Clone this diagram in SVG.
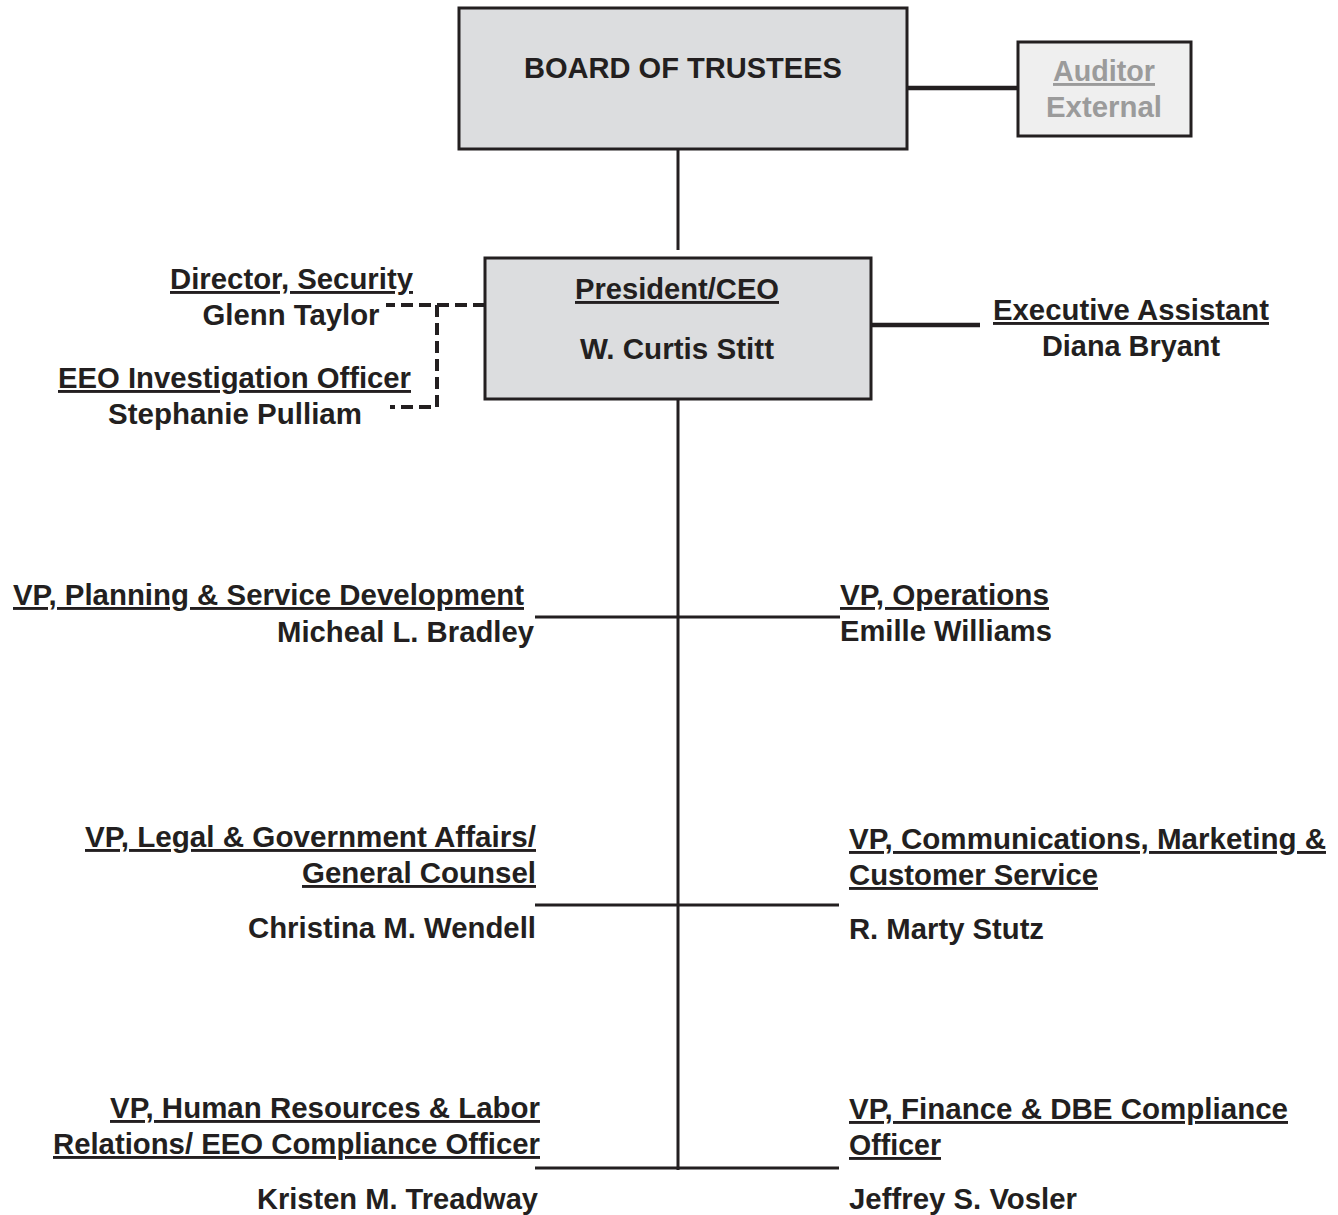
<svg xmlns="http://www.w3.org/2000/svg" width="1338" height="1215" viewBox="0 0 1338 1215">
<style>
text{font-family:"Liberation Sans",Arial,sans-serif;font-weight:bold;font-size:29px;fill:#231f20}
.u{text-decoration:underline;text-decoration-skip-ink:none;text-decoration-thickness:3px}
.m{text-anchor:middle}
.e{text-anchor:end}
.g{fill:#9b9b9b}
.box{fill:#dcdddf;stroke:#231f20;stroke-width:3}
.abox{fill:#efefef;stroke:#231f20;stroke-width:3}
.ln{stroke:#231f20;stroke-width:3;fill:none}
.thick{stroke:#231f20;stroke-width:4.5;fill:none}
.dash{stroke:#231f20;stroke-width:4;fill:none;stroke-dasharray:12,6}
</style>
<g id="connectors">
<line class="thick" x1="907" y1="88" x2="1018" y2="88"/>
<line class="ln" x1="678" y1="149" x2="678" y2="250"/>
<line class="thick" x1="871" y1="325" x2="980" y2="325"/>
<path class="dash" d="M485 305 H386 M437 305 V407 H390"/>
<line class="ln" x1="678" y1="399" x2="678" y2="1170"/>
<line class="ln" x1="535" y1="617" x2="840" y2="617"/>
<line class="ln" x1="535" y1="905" x2="839" y2="905"/>
<line class="ln" x1="535" y1="1168" x2="839" y2="1168"/>
</g>
<g id="board">
<rect class="box" x="459" y="8" width="448" height="141"/>
<text class="m" x="683" y="78" font-size="26" textLength="318" lengthAdjust="spacingAndGlyphs">BOARD OF TRUSTEES</text>
</g>
<g id="auditor">
<rect class="abox" x="1018" y="42" width="173" height="94"/>
<text class="m u g" x="1104" y="81" textLength="102" lengthAdjust="spacingAndGlyphs">Auditor</text>
<text class="m g" x="1104" y="117" textLength="116" lengthAdjust="spacingAndGlyphs">External</text>
</g>
<g id="president">
<rect class="box" x="485" y="258" width="386" height="141"/>
<text class="m u" x="677" y="299" textLength="204" lengthAdjust="spacingAndGlyphs">President/CEO</text>
<text class="m" x="677" y="359" textLength="194" lengthAdjust="spacingAndGlyphs">W. Curtis Stitt</text>
</g>
<g id="exec-assistant">
<text class="m u" x="1131" y="320" textLength="276" lengthAdjust="spacingAndGlyphs">Executive Assistant</text>
<text class="m" x="1131" y="356" textLength="178" lengthAdjust="spacingAndGlyphs">Diana Bryant</text>
</g>
<g id="security">
<text class="e u" x="413" y="289" textLength="243" lengthAdjust="spacingAndGlyphs">Director, Security</text>
<text class="m" x="291" y="325" textLength="177" lengthAdjust="spacingAndGlyphs">Glenn Taylor</text>
</g>
<g id="eeo-investigation">
<text class="e u" x="411" y="388" textLength="353" lengthAdjust="spacingAndGlyphs">EEO Investigation Officer</text>
<text class="m" x="235" y="424" textLength="254" lengthAdjust="spacingAndGlyphs">Stephanie Pulliam</text>
</g>
<g id="vp-planning">
<text class="e u" x="524" y="605" textLength="511" lengthAdjust="spacingAndGlyphs">VP, Planning &amp; Service Development</text>
<text class="e" x="534" y="642" textLength="257" lengthAdjust="spacingAndGlyphs">Micheal L. Bradley</text>
</g>
<g id="vp-operations">
<text class="u" x="840" y="605" textLength="209" lengthAdjust="spacingAndGlyphs">VP, Operations</text>
<text x="840" y="641" textLength="212" lengthAdjust="spacingAndGlyphs">Emille Williams</text>
</g>
<g id="vp-legal">
<text class="e u" x="536" y="847" textLength="451" lengthAdjust="spacingAndGlyphs">VP, Legal &amp; Government Affairs/</text>
<text class="e u" x="536" y="883" textLength="234" lengthAdjust="spacingAndGlyphs">General Counsel</text>
<text class="e" x="536" y="938" textLength="288" lengthAdjust="spacingAndGlyphs">Christina M. Wendell</text>
</g>
<g id="vp-communications">
<text class="u" x="849" y="849" textLength="477" lengthAdjust="spacingAndGlyphs">VP, Communications, Marketing &amp;</text>
<text class="u" x="849" y="885" textLength="249" lengthAdjust="spacingAndGlyphs">Customer Service</text>
<text x="849" y="939" textLength="195" lengthAdjust="spacingAndGlyphs">R. Marty Stutz</text>
</g>
<g id="vp-hr">
<text class="e u" x="540" y="1118" textLength="430" lengthAdjust="spacingAndGlyphs">VP, Human Resources &amp; Labor</text>
<text class="e u" x="540" y="1154" textLength="487" lengthAdjust="spacingAndGlyphs">Relations/ EEO Compliance Officer</text>
<text class="e" x="538" y="1209" textLength="281" lengthAdjust="spacingAndGlyphs">Kristen M. Treadway</text>
</g>
<g id="vp-finance">
<text class="u" x="849" y="1119" textLength="439" lengthAdjust="spacingAndGlyphs">VP, Finance &amp; DBE Compliance</text>
<text class="u" x="849" y="1155" textLength="92" lengthAdjust="spacingAndGlyphs">Officer</text>
<text x="849" y="1209" textLength="228" lengthAdjust="spacingAndGlyphs">Jeffrey S. Vosler</text>
</g>
</svg>
